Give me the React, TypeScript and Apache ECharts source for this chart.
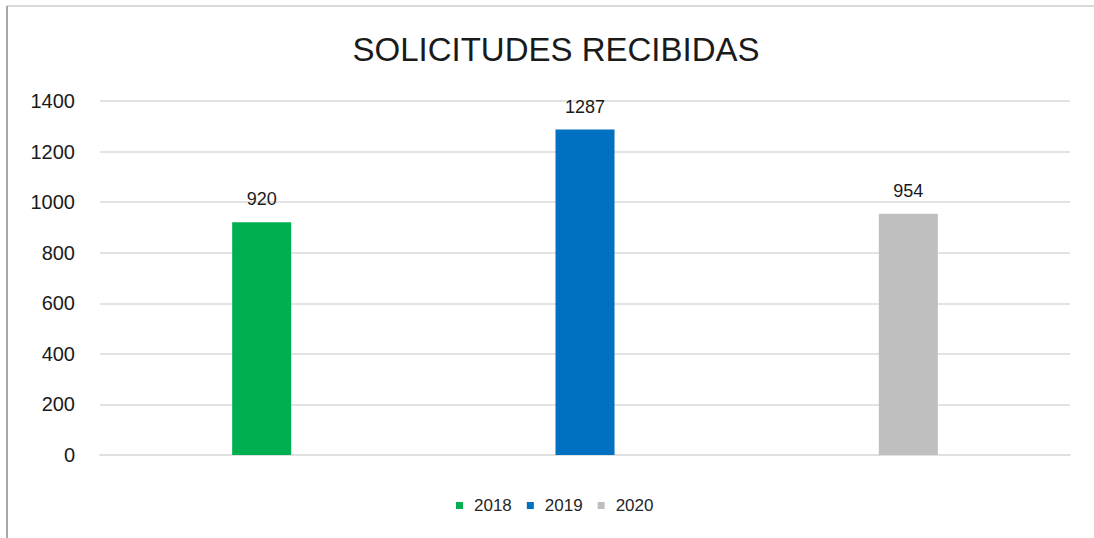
import React, { useEffect, useRef } from "react";
import * as echarts from "echarts";

const categories = ["2018", "2019", "2020"];
const seriesNames = ["2018", "2019", "2020"];
const values = [920, 1287, 954];
const colors = ["#00b050", "#0070c0", "#bfbfbf"];
const yTicks = { min: 0, max: 1400, interval: 200 };
const title = "SOLICITUDES RECIBIDAS";

export default function App() {
  const ref = useRef<HTMLDivElement>(null);
  useEffect(() => {
    document.body.style.margin = "0";
    const chart = echarts.init(ref.current!, null, { renderer: "svg" });
    const font = "Liberation Sans, Arial, sans-serif";
    chart.setOption({
      animation: false,
      backgroundColor: "#ffffff",
      textStyle: { fontFamily: font },
      title: {
        text: title,
        left: 551,
        textAlign: "center",
        top: 28,
        textStyle: { fontFamily: font, fontSize: 33, fontWeight: "normal", color: "#1a1a1a" },
      },
      graphic: [
        { type: "line", shape: { x1: 7, y1: 6, x2: 1094, y2: 6 }, style: { stroke: "#d9d9d9", lineWidth: 2 } },
        { type: "line", shape: { x1: 7, y1: 6, x2: 7, y2: 538 }, style: { stroke: "#8c8c8c", lineWidth: 1.5 } },
      ],
      legend: {
        bottom: 19,
        left: 451,
        icon: "rect",
        itemWidth: 7,
        itemHeight: 7,
        itemGap: 15,
        textStyle: { fontFamily: font, fontSize: 17, color: "#262626", padding: [0, 0, 0, 6] },
        data: seriesNames,
      },
      grid: { left: 100, right: 24, top: 101, bottom: 83, containLabel: false },
      xAxis: {
        type: "category",
        data: categories,
        axisLine: { show: true, lineStyle: { color: "#e0e0e0", width: 2 } },
        axisTick: { show: false },
        axisLabel: { show: false },
      },
      yAxis: {
        type: "value",
        min: yTicks.min,
        max: yTicks.max,
        interval: yTicks.interval,
        axisLine: { show: false },
        axisTick: { show: false },
        axisLabel: {
          fontFamily: font,
          fontSize: 20,
          color: "#1a1a1a",
          margin: 25,
          formatter: (v: number) => String(v),
        },
        splitLine: { lineStyle: { color: "#e3e3e3", width: 2 } },
      },
      series: seriesNames.map((name, i) => ({
        name,
        type: "bar",
        stack: "all",
        barWidth: 59,
        itemStyle: { color: colors[i] },
        label: {
          show: true,
          position: "top",
          distance: 14,
          fontFamily: font,
          fontSize: 18,
          color: "#1a1a1a",
        },
        data: categories.map((_, j) => (j === i ? values[i] : "-")),
      })),
    });
    return () => chart.dispose();
  }, []);
  return <div ref={ref} style={{ width: 1094, height: 538 }} />;
}
